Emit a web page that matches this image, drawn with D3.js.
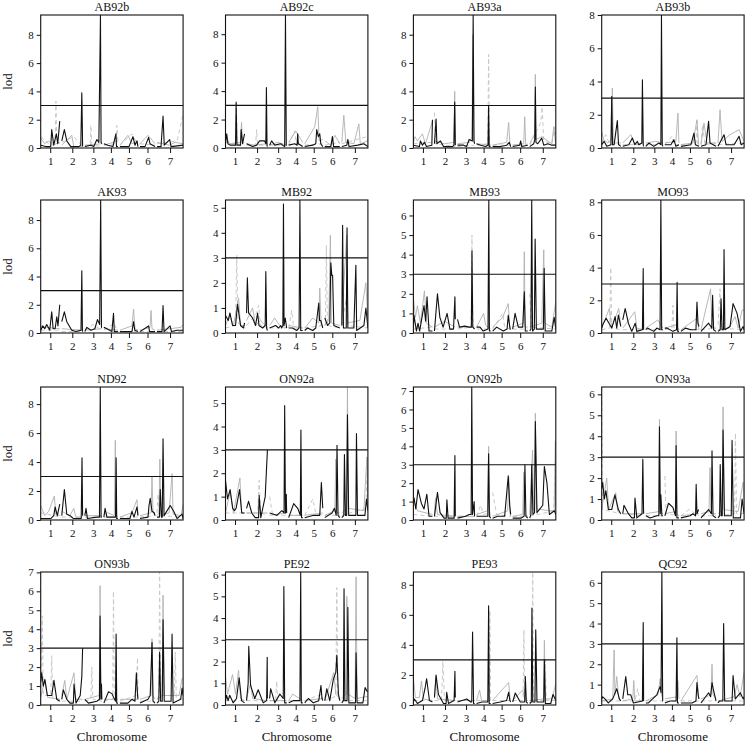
<!DOCTYPE html>
<html>
<head>
<meta charset="utf-8">
<script src="https://cdn.jsdelivr.net/npm/d3@7/dist/d3.min.js"></script>
<style>
  body { margin: 0; background: #fff; }
  svg { display: block; }
  svg text { font-family: "Liberation Serif", "Times New Roman", "DejaVu Serif", serif; }
</style>
</head>
<body>
<svg width="748" height="748"></svg>
<script>
// chromosomes (cM) and panel info
const chrNames = ["1", "2", "3", "4", "5", "6", "7"];
const chrLengths = [95, 105, 85, 70, 90, 75, 130];
const chrGap = 10;
const threshold = 3;
const panelNames = ["AB92b", "AB92c", "AB93a", "AB93b", "AK93", "MB92", "MB93", "MO93",
                    "ND92", "ON92a", "ON92b", "ON93a", "ON93b", "PE92", "PE93", "QC92"];
const yTickStep = [2, 2, 2, 2, 2, 1, 1, 2, 2, 1, 1, 1, 1, 1, 2, 1];

// lod curves, [chr, pos, lod]
const ab92bBlack = [[1,0,.2],[1,25,.1],[1,50,.1],[1,55,1.3],[1,65,.2],[1,78,1.0],[1,85,.3],[1,95,1.9],
  [2,0,.5],[2,13,1.3],[2,25,.5],[2,45,.1],[2,85,.1],[2,95,.2],[2,100,3.9],[2,104,.1],
  [3,0,.1],[3,30,.2],[3,45,.1],[3,60,.6],[3,70,.4],[3,78,9.4],[3,81,.4],[3,85,.3],
  [4,0,.3],[4,20,.2],[4,45,.1],[4,60,1.0],[4,63,.1],[4,70,.1],
  [5,0,.1],[5,45,.1],[5,65,.8],[5,75,.2],[5,85,.5],[5,90,.1],
  [6,0,.1],[6,25,.1],[6,43,.75],[6,50,.3],[6,75,.1],
  [7,0,.1],[7,20,.1],[7,30,2.25],[7,36,.2],[7,63,.6],[7,70,.1],[7,130,.2]];
const ab92bGray = [[1,0,.7],[1,20,.3],[1,40,.5],[1,60,.2],[1,95,.4],[2,0,.2],[2,50,.9],[2,60,.1],[2,104,.1],
  [3,0,.2],[3,85,.3],[4,0,.2],[4,70,.5],[5,0,.2],[5,40,.9],[5,60,.3],[5,90,.5],[6,0,.3],[6,40,.9],[6,75,.3],
  [7,0,.4],[7,60,.2],[7,90,.4],[7,130,.3]];
const ab92bDash = [[1,0,.8],[1,40,.3],[1,72,.4],[1,76,3.3],[1,80,.5],[1,95,.3],[2,0,.4],[2,60,.8],[2,104,.1],
  [3,0,.1],[3,27,.2],[3,30,1.6],[3,35,.2],[3,85,.1],[4,0,.2],[4,60,.3],[4,65,1.6],[4,70,.4],
  [5,0,.2],[5,60,1.0],[5,90,.2],[6,0,.3],[6,75,.2],[7,0,.3],[7,100,.5],[7,130,2.4]];

const ab92cBlack = [[1,0,.3],[1,6,1.0],[1,12,.3],[1,23,.2],[1,50,.2],[1,53,3.2],[1,57,.2],[1,75,.2],[1,78,1.3],[1,85,.3],[1,95,1.0],
  [2,0,.3],[2,30,.1],[2,50,.2],[2,65,.5],[2,90,.5],[2,96,.3],[2,99,4.25],[2,102,.2],[2,104,.1],
  [3,0,.2],[3,10,.5],[3,25,.2],[3,55,.3],[3,75,.1],[3,79,9.35],[3,83,.2],[3,85,.2],
  [4,0,.2],[4,30,.3],[4,42,.2],[4,45,1.0],[4,48,.3],[4,70,.1],
  [5,0,.1],[5,40,.2],[5,55,.3],[5,60,1.3],[5,68,.8],[5,75,1.0],[5,80,.3],[5,90,.1],
  [6,0,.1],[6,30,.1],[6,38,.8],[6,44,.1],[6,75,.1],
  [7,0,.1],[7,25,.2],[7,30,.6],[7,36,.1],[7,80,.2],[7,110,.3],[7,130,.1]];
const ab92cGray = [[1,0,.9],[1,20,.3],[1,75,.4],[1,80,1.8],[1,85,.3],[1,95,.4],[2,0,.3],[2,40,.2],[2,104,.3],
  [3,0,.2],[3,40,.4],[3,85,.2],[4,0,.4],[4,35,1.2],[4,70,.4],[5,0,.3],[5,50,1.5],[5,65,2.9],[5,72,.5],[5,90,.6],
  [6,0,.5],[6,30,.2],[6,50,.9],[6,75,.3],[7,0,.4],[7,10,2.3],[7,20,.4],[7,60,.3],[7,85,1.7],[7,92,.3],[7,130,.5]];
const ab92cDash = [[1,0,.4],[1,50,.3],[1,54,3.4],[1,58,.3],[1,95,.2],[2,0,.2],[2,45,.2],[2,50,1.3],[2,55,.2],[2,104,.2],
  [3,0,.2],[3,85,.2],[4,0,.2],[4,30,1.2],[4,38,.3],[4,70,.2],[5,0,.2],[5,90,.3],[6,0,.2],[6,75,.4],
  [7,0,.3],[7,125,.8],[7,130,.5]];

const ab93aBlack = [[1,0,.2],[1,30,.1],[1,35,.5],[1,45,.2],[1,55,.4],[1,65,.1],[1,92,.2],[1,95,2.0],
  [2,0,.3],[2,8,2.05],[2,12,.3],[2,30,.5],[2,45,.1],[2,90,.1],[2,97,.2],[2,101,3.25],[2,104,.2],
  [3,0,.2],[3,30,.2],[3,45,.1],[3,58,.6],[3,74,.5],[3,78,9.39],[3,82,.5],[3,85,.3],
  [4,0,.3],[4,20,.2],[4,45,.1],[4,57,.2],[4,60,3.0],[4,63,.1],[4,70,.1],
  [5,0,.1],[5,40,.1],[5,70,.2],[5,83,.4],[5,90,.1],
  [6,0,.1],[6,35,.2],[6,40,.5],[6,45,.1],[6,75,.2],
  [7,0,.1],[7,20,.3],[7,25,.6],[7,28,4.3],[7,31,.4],[7,40,.3],[7,60,.7],[7,70,.2],[7,90,.3],[7,110,.2],[7,130,.2]];
const ab93aGray = [[1,0,.4],[1,8,.8],[1,20,.5],[1,45,1.0],[1,60,.3],[1,95,1.9],[2,0,.5],[2,50,.3],[2,97,.4],[2,101,4.0],[2,104,.2],
  [3,0,.3],[3,60,.4],[3,72,.8],[3,77,8.0],[3,82,.4],[3,85,.3],[4,0,.3],[4,70,.2],
  [5,0,.2],[5,70,.4],[5,80,1.8],[5,86,.3],[5,90,.2],[6,0,.2],[6,55,.3],[6,60,2.2],[6,65,.2],[6,75,.3],
  [7,0,.3],[7,25,1.0],[7,28,5.2],[7,32,.6],[7,60,.8],[7,110,.3],[7,120,1.5],[7,130,.2]];
const ab93aDash = [[1,0,.3],[1,95,.4],[2,0,2.5],[2,6,.3],[2,104,.1],[3,0,.1],[3,85,.2],
  [4,0,.2],[4,56,.3],[4,60,6.6],[4,64,.3],[4,70,.2],[5,0,.2],[5,90,.2],[6,0,.2],[6,75,.2],
  [7,0,.2],[7,55,1.8],[7,62,2.9],[7,70,.5],[7,110,.3],[7,125,1.5],[7,130,.4]];

const ab93bBlack = [[1,0,.2],[1,12,.4],[1,25,.1],[1,46,.2],[1,50,3.1],[1,54,.2],[1,62,.2],[1,78,1.65],[1,84,.2],[1,95,.1],
  [2,0,.1],[2,30,.2],[2,48,.6],[2,60,.2],[2,73,.4],[2,80,.2],[2,95,.3],[2,98,4.1],[2,102,.2],[2,104,.1],
  [3,0,.1],[3,15,.3],[3,40,.1],[3,65,.3],[3,75,.2],[3,78,8.0],[3,82,.2],[3,85,.1],
  [4,0,.2],[4,30,.2],[4,45,.5],[4,55,.1],[4,70,.2],
  [5,0,.1],[5,50,.2],[5,65,.9],[5,72,.2],[5,90,.1],
  [6,0,.1],[6,25,.2],[6,38,1.6],[6,45,.3],[6,75,.1],
  [7,0,.1],[7,30,.8],[7,40,.2],[7,80,.2],[7,105,.7],[7,115,.2],[7,130,.3]];
const ab93bGray = [[1,0,1.0],[1,10,.5],[1,30,.3],[1,48,.5],[1,53,3.6],[1,58,.3],[1,95,.3],[2,0,.3],[2,40,.8],[2,60,.2],[2,104,.3],
  [3,0,.3],[3,50,.4],[3,85,.3],[4,0,.3],[4,55,.4],[4,65,2.1],[4,70,.3],[5,0,.2],[5,60,.3],[5,80,1.7],[5,88,.2],
  [6,0,.2],[6,15,1.5],[6,30,.3],[6,75,.3],[7,0,.3],[7,10,2.3],[7,20,.4],[7,60,.8],[7,105,1.1],[7,130,.4]];
const ab93bDash = [[1,0,.3],[1,20,.8],[1,40,.2],[1,95,.2],[2,0,.2],[2,104,.2],[3,0,.2],[3,85,.2],
  [4,0,.2],[4,35,.7],[4,45,.2],[4,70,.2],[5,0,.2],[5,75,.3],[5,80,1.6],[5,85,.2],[5,90,.2],
  [6,0,.2],[6,8,1.4],[6,20,.2],[6,75,.3],[7,0,.2],[7,130,.3]];

const ak93Black = [[1,0,.2],[1,10,.5],[1,20,.3],[1,30,.6],[1,45,.2],[1,55,1.5],[1,62,.3],[1,72,.3],[1,80,1.15],[1,86,.5],[1,95,2.0],
  [2,0,.8],[2,13,1.5],[2,25,.8],[2,50,.2],[2,70,.1],[2,96,.2],[2,100,4.4],[2,103,.2],[2,104,.1],
  [3,0,.1],[3,10,.4],[3,30,.2],[3,50,.3],[3,63,.95],[3,74,.6],[3,79,9.42],[3,83,.4],[3,85,.4],
  [4,0,.4],[4,15,.3],[4,40,.1],[4,48,1.4],[4,52,.1],[4,70,.1],
  [5,0,.1],[5,60,.1],[5,68,.8],[5,74,.2],[5,90,.1],
  [6,0,.1],[6,43,.5],[6,48,.1],[6,75,.1],
  [7,0,.1],[7,25,.1],[7,30,1.95],[7,35,.1],[7,65,.5],[7,72,.1],[7,100,.2],[7,130,.2]];
const ak93Gray = [[1,0,.5],[1,30,.4],[1,95,.3],[2,0,.3],[2,104,.2],[3,0,.2],[3,85,.3],[4,0,.3],[4,70,.2],
  [5,0,.2],[5,60,.5],[5,68,1.7],[5,75,.3],[5,90,.2],[6,0,.2],[6,50,.4],[6,55,1.6],[6,60,.3],[6,75,.2],
  [7,0,.2],[7,120,.4],[7,130,.6]];
const ak93Dash = [[1,0,.2],[1,95,.2],[2,0,.1],[2,104,.1],[3,0,.2],[3,40,.6],[3,85,.2],[4,0,.2],[4,50,.7],[4,70,.1],
  [5,0,.1],[5,90,.1],[6,0,.1],[6,75,.1],[7,0,.1],[7,130,.1]];

const mb92Black = [[1,0,.7],[1,14,.5],[1,22,.8],[1,35,.3],[1,50,.3],[1,60,1.15],[1,75,.3],[1,90,.2],[1,95,.4],
  [2,0,.8],[2,4,2.2],[2,10,.8],[2,30,.6],[2,45,.3],[2,55,.8],[2,62,.3],[2,80,.2],[2,93,.3],[2,96,2.45],[2,100,.2],[2,104,.1],
  [3,0,.2],[3,30,.3],[3,45,.2],[3,55,.3],[3,60,.2],[3,66,.3],[3,69,5.15],[3,72,.3],[3,78,.6],[3,85,.2],
  [4,0,.2],[4,19,.2],[4,40,.1],[4,52,.2],[4,56,5.31],[4,60,.1],[4,70,.1],
  [5,0,.1],[5,14,.2],[5,40,.1],[5,55,.2],[5,70,1.2],[5,74,.5],[5,80,.5],[5,90,.2],
  [6,0,.6],[6,14,.3],[6,25,.4],[6,30,2.8],[6,35,2.3],[6,39,2.3],[6,45,.3],[6,75,.2],
  [7,0,.3],[7,4,4.3],[7,8,.2],[7,22,.2],[7,26,4.2],[7,30,.2],[7,60,.2],[7,70,2.7],[7,74,.1],[7,110,.3],[7,120,1.0],[7,130,.2]];
const mb92Gray = [[1,0,.3],[1,20,.7],[1,40,.3],[1,65,1.4],[1,75,.3],[1,95,.3],[2,0,.5],[2,30,1.0],[2,45,.3],[2,70,.5],[2,104,.2],
  [3,0,.3],[3,25,.6],[3,50,.3],[3,85,.2],[4,0,.3],[4,70,.2],[5,0,.2],[5,40,.6],[5,70,.4],[5,75,1.8],[5,82,.3],[5,90,.3],
  [6,0,.3],[6,20,.5],[6,28,3.9],[6,33,.4],[6,75,.3],[7,0,.5],[7,24,3.9],[7,30,.4],[7,90,.5],[7,120,2.0],[7,130,.5]];
const mb92Dash = [[1,0,.2],[1,50,.3],[1,56,3.1],[1,62,.4],[1,95,.2],[2,0,.3],[2,50,.8],[2,60,1.1],[2,70,.3],[2,104,.2],
  [3,0,.2],[3,85,.2],[4,0,.2],[4,15,.9],[4,25,.2],[4,70,.2],[5,0,.2],[5,90,.3],
  [6,0,.3],[6,3,.3],[6,8,3.5],[6,13,.3],[6,75,.2],[7,0,.3],[7,25,1.5],[7,32,.3],[7,130,.2]];

const mb93Black = [[1,0,.3],[1,3,.9],[1,15,.1],[1,23,.5],[1,31,.1],[1,53,1.4],[1,61,.6],[1,68,1.85],[1,78,.1],[1,95,.1],
  [2,0,.1],[2,15,2.0],[2,27,.8],[2,43,.3],[2,63,1.0],[2,77,.2],[2,95,.2],[2,102,1.85],[2,104,.7],
  [3,0,.7],[3,10,.3],[3,36,.35],[3,58,.3],[3,69,.3],[3,72,4.2],[3,76,.3],[3,85,.2],
  [4,0,.3],[4,17,.3],[4,33,.1],[4,57,.2],[4,61,6.79],[4,64,.1],[4,70,.1],
  [5,0,.1],[5,20,.3],[5,53,.1],[5,72,.2],[5,78,.9],[5,87,.2],[5,90,.2],
  [6,0,.2],[6,12,1.0],[6,28,.3],[6,50,.3],[6,58,2.1],[6,63,.1],[6,75,.1],
  [7,0,.1],[7,6,.2],[7,10,6.79],[7,14,.1],[7,23,.2],[7,27,4.8],[7,33,.2],[7,68,.2],[7,72,3.3],[7,77,.1],[7,110,.1],[7,122,.8],[7,130,.2]];
const mb93Gray = [[1,0,1.8],[1,10,.8],[1,20,1.4],[1,35,.5],[1,55,2.15],[1,65,.5],[1,95,.3],[2,0,.3],[2,50,.6],[2,104,.3],
  [3,0,.3],[3,85,.3],[4,0,.3],[4,35,1.0],[4,45,.4],[4,70,.2],[5,0,.3],[5,50,.8],[5,78,1.5],[5,85,.3],[5,90,.3],
  [6,0,.3],[6,54,.5],[6,58,4.15],[6,62,.3],[6,75,.3],[7,0,.3],[7,60,.5],[7,70,4.25],[7,75,.5],[7,110,.3],[7,130,1.6]];
const mb93Dash = [[1,0,.2],[1,95,.3],[2,0,.2],[2,104,.2],[3,0,.2],[3,68,.3],[3,72,5.0],[3,77,.3],[3,85,.2],
  [4,0,.2],[4,70,.2],[5,0,.2],[5,50,1.0],[5,60,.3],[5,90,.2],[6,0,.2],[6,75,.2],[7,0,2.0],[7,8,.3],[7,130,.2]];

const mo93Black = [[1,0,.3],[1,5,.5],[1,22,.9],[1,50,.3],[1,67,1.0],[1,75,.3],[1,83,1.1],[1,95,.4],
  [2,0,.8],[2,12,1.5],[2,28,.6],[2,45,.1],[2,62,.6],[2,70,.1],[2,98,.2],[2,102,3.95],[2,104,.2],
  [3,0,.2],[3,8,.3],[3,40,.1],[3,55,.3],[3,71,.2],[3,75,8.14],[3,79,.2],[3,85,.2],
  [4,0,.3],[4,10,.3],[4,40,.1],[4,58,.2],[4,61,3.1],[4,64,.1],[4,70,.1],
  [5,0,.1],[5,22,.3],[5,50,.2],[5,75,.2],[5,80,1.9],[5,85,.6],[5,90,.4],
  [6,0,.1],[6,38,.6],[6,54,.3],[6,58,2.3],[6,63,.2],[6,75,.1],
  [7,0,.1],[7,11,.2],[7,15,2.1],[7,20,.2],[7,27,.2],[7,30,5.1],[7,34,.2],[7,60,.4],[7,75,1.8],[7,95,1.2],[7,112,.1],[7,125,.4],[7,130,.2]];
const mo93Gray = [[1,0,.3],[1,38,1.5],[1,50,.3],[1,85,1.5],[1,95,.4],[2,0,.3],[2,60,1.3],[2,70,.3],[2,104,.2],
  [3,0,.3],[3,60,.8],[3,85,.3],[4,0,.3],[4,55,.5],[4,70,.2],[5,0,.2],[5,80,.9],[5,90,.2],
  [6,0,.2],[6,48,2.7],[6,55,.3],[6,75,.3],[7,0,.2],[7,55,.3],[7,85,1.0],[7,100,.3],[7,120,1.4],[7,130,1.4]];
const mo93Dash = [[1,0,.2],[1,40,.3],[1,45,4.0],[1,50,.3],[1,95,.2],[2,0,.2],[2,104,.2],[3,0,.2],[3,85,.2],
  [4,0,.2],[4,35,.3],[4,40,1.7],[4,45,.3],[4,70,.2],[5,0,.2],[5,90,.2],[6,0,.2],[6,75,.3],
  [7,0,.5],[7,10,2.7],[7,16,.3],[7,130,.2]];

const nd92Black = [[1,0,.1],[1,50,.1],[1,65,.3],[1,72,.9],[1,83,.3],[1,95,1.1],
  [2,0,.3],[2,13,2.1],[2,25,.4],[2,42,.3],[2,58,.1],[2,97,.1],[2,101,4.3],[2,104,.3],
  [3,0,.3],[3,6,.8],[3,13,.1],[3,60,.2],[3,73,.2],[3,77,9.18],[3,81,.2],[3,85,.2],
  [4,0,.2],[4,6,.8],[4,15,.2],[4,58,.2],[4,61,4.3],[4,64,.1],[4,70,.1],
  [5,0,.1],[5,50,.1],[5,60,.6],[5,70,.2],[5,85,.9],[5,90,.3],
  [6,0,.1],[6,40,.2],[6,45,1.0],[6,51,1.5],[6,60,.6],[6,71,.5],[6,75,.3],
  [7,0,.2],[7,12,.2],[7,16,2.1],[7,22,.2],[7,26,.2],[7,30,5.6],[7,35,.3],[7,66,1.0],[7,83,.6],[7,100,.1],[7,125,.4],[7,130,.1]];
const nd92Gray = [[1,0,1.0],[1,20,.3],[1,40,.6],[1,68,1.65],[1,75,.4],[1,95,.3],[2,0,.6],[2,40,.3],[2,60,.8],[2,70,.2],[2,104,.2],
  [3,0,.3],[3,85,.3],[4,0,.4],[4,20,.5],[4,52,.3],[4,57,5.5],[4,62,.3],[4,70,.2],[5,0,.2],[5,60,.5],[5,85,1.4],[5,90,.4],
  [6,0,.3],[6,55,.5],[6,60,3.0],[6,65,.5],[6,75,.3],[7,0,.3],[7,10,.5],[7,14,4.2],[7,20,.3],[7,60,.5],[7,75,3.2],[7,80,.4],[7,120,.3],[7,130,1.1]];
const nd92Dash = [[1,0,.5],[1,95,.2],[2,0,.2],[2,104,.2],[3,0,.2],[3,85,.2],[4,0,.2],[4,70,.2],[5,0,.2],[5,90,.2],
  [6,0,.2],[6,75,.3],[7,0,.5],[7,5,1.8],[7,12,.3],[7,130,.2]];

const on92aBlack = [[1,0,1.7],[1,10,.9],[1,23,1.3],[1,36,.5],[1,45,.4],[1,53,.5],[1,70,1.3],[1,81,.3],[1,95,.3],
  [2,0,.5],[2,10,.8],[2,26,.3],[2,43,.1],[2,60,.1],[2,63,1.05],[2,71,.1],[2,93,1.0],[2,104,3.0],
  [3,0,.3],[3,36,.2],[3,61,.4],[3,72,.3],[3,75,4.9],[3,79,.3],[3,83,1.1],[3,85,.3],
  [4,0,.1],[4,25,.7],[4,45,.5],[4,58,.2],[4,61,3.85],[4,64,.1],[4,70,.1],
  [5,0,.1],[5,45,.2],[5,75,.2],[5,83,1.6],[5,90,.5],
  [6,0,.1],[6,36,.3],[6,48,.5],[6,57,.2],[6,61,3.2],[6,66,.2],[6,75,.1],
  [7,0,.1],[7,10,.2],[7,13,2.8],[7,18,.2],[7,24,.2],[7,28,4.5],[7,34,.2],[7,70,.2],[7,73,3.7],[7,78,.2],[7,115,.2],[7,123,.9],[7,130,.4]];
const on92aGray = [[1,0,.3],[1,23,1.2],[1,40,.3],[1,72,1.8],[1,80,.3],[1,95,.3],[2,0,.3],[2,104,.3],[3,0,.2],[3,85,.3],
  [4,0,.2],[4,70,.2],[5,0,.2],[5,90,.3],[6,0,.2],[6,50,.4],[6,55,2.6],[6,60,.3],[6,75,.3],
  [7,0,.3],[7,24,.5],[7,28,5.69],[7,33,.5],[7,110,.4],[7,125,2.7],[7,130,.6]];
const on92aDash = [[1,0,.3],[1,95,.3],[2,0,.3],[2,55,.3],[2,63,1.7],[2,70,.3],[2,104,.2],[3,0,1.0],[3,15,.2],[3,85,.2],
  [4,0,.2],[4,70,.2],[5,0,.2],[5,40,.9],[5,55,.3],[5,90,.2],[6,0,.2],[6,75,.2],[7,0,.2],[7,120,.5],[7,128,2.7],[7,130,.3]];

const on92bBlack = [[1,0,1.0],[1,3,1.2],[1,12,.6],[1,23,1.65],[1,40,.9],[1,53,.6],[1,67,1.4],[1,78,.2],[1,95,.2],
  [2,0,.2],[2,15,1.5],[2,28,.4],[2,48,.1],[2,59,.1],[2,62,1.1],[2,68,.1],[2,98,.1],[2,102,3.5],[2,104,.2],
  [3,0,.1],[3,40,.2],[3,58,.3],[3,68,.3],[3,71,7.22],[3,75,.3],[3,83,1.0],[3,85,.2],
  [4,0,.2],[4,21,.2],[4,56,.2],[4,60,3.6],[4,64,.2],[4,70,.1],
  [5,0,.1],[5,25,.2],[5,60,.2],[5,78,2.4],[5,85,.8],[5,90,.3],
  [6,0,.1],[6,41,.1],[6,57,.2],[6,61,3.0],[6,66,.2],[6,75,.1],
  [7,0,.1],[7,6,.3],[7,10,3.0],[7,16,.3],[7,24,.4],[7,28,5.35],[7,36,.4],[7,65,.8],[7,73,2.9],[7,86,2.0],[7,98,.3],[7,123,.5],[7,130,.3]];
const on92bGray = [[1,0,1.1],[1,20,.5],[1,95,.3],[2,0,.3],[2,5,1.2],[2,15,.3],[2,104,.2],[3,0,.2],[3,85,.2],
  [4,0,.3],[4,55,.5],[4,60,4.0],[4,65,.4],[4,70,.2],[5,0,.2],[5,75,.5],[5,80,2.3],[5,87,.4],[5,90,.2],
  [6,0,.2],[6,50,.3],[6,55,2.6],[6,60,.3],[6,75,.2],
  [7,0,.3],[7,14,3.8],[7,20,.5],[7,24,.8],[7,28,5.8],[7,35,.6],[7,100,.5],[7,122,.5],[7,128,4.3],[7,130,.8]];
const on92bDash = [[1,0,.3],[1,95,.2],[2,0,.2],[2,104,.2],[3,0,.2],[3,85,.2],[4,0,.2],[4,20,.8],[4,35,.3],[4,70,.4],
  [5,0,1.5],[5,20,.3],[5,90,.2],[6,0,.2],[6,75,.2],[7,0,.2],[7,120,.5],[7,130,4.3]];

const on93aBlack = [[1,0,1.5],[1,5,1.8],[1,13,1.0],[1,21,1.4],[1,33,.5],[1,50,.5],[1,66,1.2],[1,83,.5],[1,95,.3],
  [2,0,.3],[2,6,.7],[2,28,.3],[2,45,.1],[2,58,.1],[2,61,1.05],[2,70,.1],[2,96,.3],[2,100,2.9],[2,104,.3],
  [3,0,.2],[3,21,.1],[3,55,.2],[3,65,.2],[3,68,4.45],[3,72,.3],[3,75,1.2],[3,80,.2],[3,85,.2],
  [4,0,.2],[4,18,.8],[4,40,.6],[4,53,.2],[4,56,3.55],[4,60,.1],[4,70,.1],
  [5,0,.1],[5,46,.2],[5,60,.3],[5,73,.2],[5,76,1.7],[5,80,.3],[5,88,.5],
  [6,0,.1],[6,38,.5],[6,52,.3],[6,55,3.3],[6,60,.2],[6,75,.1],
  [7,0,.1],[7,8,.2],[7,11,2.65],[7,16,.2],[7,21,.2],[7,25,4.3],[7,32,.2],[7,66,.2],[7,70,3.8],[7,76,.1],[7,112,.1],[7,120,1.0],[7,130,.3]];
const on93aGray = [[1,0,.5],[1,25,2.0],[1,35,.5],[1,70,1.3],[1,80,.4],[1,95,.3],[2,0,.3],[2,104,.3],
  [3,0,.3],[3,64,.4],[3,68,4.8],[3,72,.4],[3,85,.3],[4,0,.3],[4,52,.4],[4,56,4.25],[4,60,.3],[4,70,.2],
  [5,0,.2],[5,90,.3],[6,0,.3],[6,40,.4],[6,45,2.5],[6,50,.3],[6,75,.3],
  [7,0,.3],[7,21,.5],[7,25,5.4],[7,30,.5],[7,100,.4],[7,125,1.8],[7,130,.8]];
const on93aDash = [[1,0,6.35],[1,4,.5],[1,95,.3],[2,0,.3],[2,104,.2],[3,0,.2],[3,85,.2],[4,0,2.1],[4,6,.3],[4,70,.2],
  [5,0,.2],[5,40,.5],[5,90,.2],[6,0,.2],[6,75,.2],[7,0,.2],[7,82,.3],[7,87,4.15],[7,92,.3],[7,130,.3]];

const on93bBlack = [[1,0,1.2],[1,5,1.7],[1,13,1.0],[1,21,1.35],[1,33,.5],[1,55,.5],[1,66,1.3],[1,80,.3],[1,95,.2],
  [2,0,.3],[2,8,.8],[2,25,.3],[2,41,.1],[2,58,.1],[2,61,1.1],[2,71,.1],[2,92,.5],[2,100,1.5],[2,104,3.0],
  [3,0,.3],[3,18,.1],[3,60,.2],[3,73,.3],[3,76,4.7],[3,80,.3],[3,83,1.1],[3,85,.3],
  [4,0,.1],[4,23,.7],[4,40,.6],[4,58,.2],[4,61,3.75],[4,64,.1],[4,70,.1],
  [5,0,.1],[5,40,.1],[5,60,.3],[5,75,.2],[5,82,1.7],[5,88,.5],[5,90,.3],
  [6,0,.1],[6,40,.3],[6,51,.5],[6,60,3.3],[6,65,.2],[6,75,.1],
  [7,0,.1],[7,9,.2],[7,13,2.8],[7,18,.2],[7,26,.2],[7,30,4.5],[7,36,.2],[7,70,.2],[7,75,3.75],[7,80,.1],[7,118,.3],[7,125,.9],[7,130,.5]];
const on93bGray = [[1,0,.4],[1,20,1.3],[1,35,.4],[1,95,.3],[2,0,.5],[2,15,1.3],[2,25,.3],[2,61,1.7],[2,70,.3],[2,104,.3],
  [3,0,.3],[3,72,.5],[3,76,6.3],[3,80,.5],[3,85,.3],[4,0,.3],[4,70,.3],[5,0,.3],[5,90,.3],
  [6,0,.3],[6,55,.5],[6,60,3.5],[6,65,.5],[6,75,.3],[7,0,.3],[7,26,.5],[7,30,5.8],[7,35,.5],[7,110,.5],[7,125,1.4],[7,130,1.4]];
const on93bDash = [[1,0,.5],[1,8,4.7],[1,13,.5],[1,50,.5],[1,55,2.6],[1,60,.4],[1,95,.3],[2,0,.2],[2,104,.2],
  [3,0,.2],[3,30,.3],[3,35,2.0],[3,40,.3],[3,85,.2],[4,0,.2],[4,44,.3],[4,48,6.0],[4,52,.3],[4,70,.2],
  [5,0,.2],[5,80,.5],[5,88,2.5],[5,90,.4],[6,0,.2],[6,75,.2],
  [7,0,.3],[7,9,.5],[7,13,7.02],[7,18,.5],[7,86,.5],[7,91,2.8],[7,96,.4],[7,130,.3]];

const pe92Black = [[1,0,.2],[1,5,.45],[1,13,.2],[1,21,.45],[1,38,.1],[1,55,.3],[1,68,1.25],[1,80,.2],[1,95,.1],
  [2,0,.2],[2,8,1.0],[2,11,2.7],[2,20,.9],[2,41,.3],[2,58,.7],[2,83,.1],[2,100,.2],[2,103,2.2],[2,104,.3],
  [3,0,.3],[3,5,.75],[3,26,.1],[3,51,.5],[3,68,.3],[3,71,5.45],[3,75,.1],[3,85,.1],
  [4,0,.1],[4,23,.2],[4,56,.2],[4,60,6.12],[4,63,.1],[4,70,.1],
  [5,0,.1],[5,18,.3],[5,43,.1],[5,70,.2],[5,81,.9],[5,86,.3],[5,90,.2],
  [6,0,.2],[6,10,.75],[6,25,.2],[6,43,1.2],[6,55,1.5],[6,60,2.3],[6,68,.5],[6,75,.2],
  [7,0,.1],[7,8,.2],[7,11,5.35],[7,15,.2],[7,26,.2],[7,30,4.5],[7,35,.1],[7,68,.1],[7,71,2.4],[7,76,.1],[7,105,.1],[7,116,.8],[7,128,.6]];
const pe92Gray = [[1,0,1.3],[1,10,.5],[1,35,1.4],[1,50,.5],[1,65,1.6],[1,75,.3],[1,95,.2],[2,0,.3],[2,20,1.0],[2,30,.3],[2,104,.2],
  [3,0,.2],[3,85,.2],[4,0,.2],[4,20,.5],[4,70,.2],[5,0,.2],[5,90,.3],[6,0,.2],[6,45,1.5],[6,55,.5],[6,75,.3],
  [7,0,.3],[7,20,.5],[7,25,5.0],[7,30,.5],[7,66,.3],[7,71,5.9],[7,76,.3],[7,130,.4]];
const pe92Dash = [[1,0,.2],[1,95,.2],[2,0,.2],[2,104,.2],[3,0,.2],[3,30,.2],[3,35,1.1],[3,40,.2],[3,85,.2],[4,0,.2],[4,70,.2],
  [5,0,.2],[5,85,.5],[5,90,.3],[6,0,.2],[6,55,.4],[6,60,5.4],[6,65,.4],[6,75,.2],[7,0,.2],[7,130,.2]];

const pe93Black = [[1,0,.2],[1,5,.4],[1,20,.1],[1,45,.3],[1,58,1.1],[1,66,1.75],[1,80,.3],[1,95,.2],
  [2,0,.5],[2,8,2.0],[2,20,.7],[2,45,.1],[2,58,.1],[2,61,.85],[2,70,.1],[2,98,.3],[2,102,2.25],[2,104,.5],
  [3,0,.2],[3,46,.4],[3,66,.2],[3,71,.2],[3,75,4.85],[3,80,.1],[3,85,.1],
  [4,0,.1],[4,26,.2],[4,56,.2],[4,60,6.6],[4,63,.1],[4,70,.1],
  [5,0,.1],[5,38,.2],[5,70,.3],[5,80,.85],[5,86,.3],[5,90,.2],
  [6,0,.2],[6,13,.8],[6,38,.2],[6,60,.2],[6,63,1.9],[6,68,.2],[6,75,.1],
  [7,0,.1],[7,8,.2],[7,11,6.45],[7,15,.2],[7,26,.2],[7,30,5.0],[7,36,.2],[7,70,.2],[7,73,3.0],[7,78,.1],[7,105,.1],[7,116,.7],[7,130,.3]];
const pe93Gray = [[1,0,1.8],[1,10,.5],[1,30,.5],[1,40,1.6],[1,50,.4],[1,95,.3],[2,0,.5],[2,8,1.9],[2,15,.4],[2,104,.3],
  [3,0,.3],[3,85,.3],[4,0,.3],[4,15,1.0],[4,25,.3],[4,70,.3],[5,0,.3],[5,80,1.5],[5,88,.3],
  [6,0,.3],[6,50,1.0],[6,60,.4],[6,75,.3],[7,0,.3],[7,69,.4],[7,73,4.3],[7,78,.4],[7,110,.4],[7,130,1.4]];
const pe93Dash = [[1,0,.3],[1,95,.3],[2,0,.3],[2,35,.3],[2,42,2.9],[2,50,.3],[2,104,.3],[3,0,.3],[3,85,.3],
  [4,0,.3],[4,62,.3],[4,66,6.3],[4,70,.3],[5,0,.3],[5,90,.3],[6,0,.3],[6,52,.3],[6,56,5.0],[6,60,.3],[6,75,.3],
  [7,0,.3],[7,11,.3],[7,15,8.85],[7,19,.3],[7,74,.3],[7,78,3.0],[7,82,.3],[7,130,.3]];

const qc92Black = [[1,0,.3],[1,5,.4],[1,16,.3],[1,33,.1],[1,55,.3],[1,75,.8],[1,88,.3],[1,95,.2],
  [2,0,.3],[2,15,1.4],[2,25,.5],[2,40,.5],[2,53,.1],[2,98,.2],[2,102,4.05],[2,104,.2],
  [3,0,.1],[3,13,.1],[3,55,.5],[3,71,.9],[3,76,.6],[3,80,6.53],[3,84,.2],[3,85,.2],
  [4,0,.1],[4,26,.2],[4,56,.2],[4,60,3.3],[4,63,.1],[4,70,.1],
  [5,0,.1],[5,55,.1],[5,75,.2],[5,80,1.1],[5,86,.5],[5,90,.3],
  [6,0,.1],[6,38,.6],[6,48,.4],[6,55,1.1],[6,63,.7],[6,75,.2],
  [7,0,.1],[7,8,.2],[7,24,.2],[7,28,4.0],[7,33,.2],[7,70,.2],[7,75,1.45],[7,86,.3],[7,111,.6],[7,125,.3],[7,130,.4]];
const qc92Gray = [[1,0,.2],[1,55,.3],[1,62,2.7],[1,66,.5],[1,75,1.4],[1,85,.3],[1,95,.2],[2,0,.2],[2,50,.3],[2,55,1.2],[2,60,.2],[2,104,.2],
  [3,0,.2],[3,60,.5],[3,72,1.3],[3,78,.5],[3,85,.3],[4,0,.3],[4,60,.4],[4,65,1.2],[4,70,.3],[5,0,.2],[5,80,1.45],[5,88,.3],
  [6,0,.3],[6,50,.5],[6,55,2.0],[6,60,.5],[6,75,.3],[7,0,.2],[7,80,.4],[7,95,1.0],[7,110,.4],[7,130,1.6]];
const qc92Dash = [[1,0,.2],[1,95,.2],[2,0,.2],[2,60,.2],[2,75,.8],[2,85,.2],[2,104,.2],[3,0,.2],[3,85,.2],
  [4,0,.2],[4,70,.2],[5,0,.2],[5,90,.2],[6,0,.2],[6,75,.2],[7,0,.2],[7,130,.2]];

// series per panel: dashed, gray, black (black drawn last, on top)
const panelSeries = [
  [ab92bDash, ab92bGray, ab92bBlack], [ab92cDash, ab92cGray, ab92cBlack],
  [ab93aDash, ab93aGray, ab93aBlack], [ab93bDash, ab93bGray, ab93bBlack],
  [ak93Dash, ak93Gray, ak93Black], [mb92Dash, mb92Gray, mb92Black],
  [mb93Dash, mb93Gray, mb93Black], [mo93Dash, mo93Gray, mo93Black],
  [nd92Dash, nd92Gray, nd92Black], [on92aDash, on92aGray, on92aBlack],
  [on92bDash, on92bGray, on92bBlack], [on93aDash, on93aGray, on93aBlack],
  [on93bDash, on93bGray, on93bBlack], [pe92Dash, pe92Gray, pe92Black],
  [pe93Dash, pe93Gray, pe93Black], [qc92Dash, qc92Gray, qc92Black]
];

const lineStyles = [
  {stroke: "#c8c8c8", width: 1, dash: "4,3"},
  {stroke: "#b0b0b0", width: 0.9, dash: null},
  {stroke: "#111", width: 1.1, dash: null}
];
const serif = "'Liberation Serif', 'Times New Roman', 'DejaVu Serif', serif";

// layout
const colLeft = [40.7, 225.5, 413.4, 601.7];
const rowTop = [15, 200, 387, 572];
const boxW = 142.4, boxH = 133;

// chromosome start offsets on the genome axis
let chrStart = [];
let acc = 0;
chrLengths.forEach((len, i) => { chrStart.push(acc); acc += len + chrGap; });
const genomeEnd = chrStart[6] + chrLengths[6];

const svg = d3.select("svg");

function drawPanel(idx) {
    const col = idx % 4, row = Math.floor(idx / 4);
    const series = panelSeries[idx];
    const ymax = d3.max(series, s => d3.max(s, d => d[2]));

    const g = svg.append("g")
        .attr("transform", `translate(${colLeft[col]},${rowTop[row]})`);

    const scX = d3.scaleLinear().domain([0, genomeEnd]).range([0, boxW]);
    const scY = d3.scaleLinear().domain([0, ymax]).range([boxH, 0]);

    g.append("clipPath").attr("id", "clip" + idx)
        .append("rect").attr("width", boxW).attr("height", boxH);

    const line = d3.line()
        .x(d => scX(chrStart[d[0] - 1] + d[1]))
        .y(d => scY(d[2]));

    const plot = g.append("g").attr("clip-path", `url(#clip${idx})`);
    series.forEach((s, k) => {
        const byChr = d3.groups(s, d => d[0]);
        const st = lineStyles[k];
        plot.selectAll(null)
            .data(byChr)
            .enter()
            .append("path")
            .attr("d", d => line(d[1]))
            .attr("fill", "none")
            .attr("stroke", st.stroke)
            .attr("stroke-width", st.width)
            .attr("stroke-dasharray", st.dash)
            .attr("stroke-linejoin", "round");
    });

    // threshold
    g.append("line")
        .attr("x1", 0).attr("x2", boxW)
        .attr("y1", scY(threshold)).attr("y2", scY(threshold))
        .attr("stroke", "#111").attr("stroke-width", 1.1);

    // box
    g.append("rect")
        .attr("width", boxW).attr("height", boxH)
        .attr("fill", "none").attr("stroke", "#111").attr("stroke-width", 1.1);

    // axes
    const mids = chrLengths.map((len, i) => chrStart[i] + len / 2);
    const axX = g.append("g")
        .attr("transform", `translate(0,${boxH})`)
        .call(d3.axisBottom(scX).tickValues(mids).tickFormat((d, i) => chrNames[i])
              .tickSize(5).tickPadding(4));
    axX.select(".domain").remove();

    const yTicks = d3.range(0, ymax + 1e-9, yTickStep[idx]);
    const axY = g.append("g")
        .call(d3.axisLeft(scY).tickValues(yTicks).tickFormat(d3.format("d"))
              .tickSize(4).tickPadding(3));
    axY.select(".domain").remove();

    [axX, axY].forEach(a => {
        a.attr("font-family", null).attr("font-size", null);
        a.selectAll("line").attr("stroke", "#111");
        a.selectAll("text")
            .attr("fill", "#111")
            .style("font-family", serif)
            .style("font-size", "11px");
    });

    // title
    g.append("text")
        .attr("x", boxW / 2).attr("y", -4)
        .attr("text-anchor", "middle")
        .style("font-family", serif)
        .style("font-size", "12px")
        .attr("fill", "#111")
        .text(panelNames[idx]);

    if (col == 0) {
        g.append("text")
            .attr("transform", `translate(${-29},${boxH / 2}) rotate(-90)`)
            .attr("text-anchor", "middle")
            .style("font-family", serif)
            .style("font-size", "13px")
            .attr("fill", "#111")
            .text("lod");
    }
    if (row == 3) {
        g.append("text")
            .attr("x", boxW / 2).attr("y", boxH + 36)
            .attr("text-anchor", "middle")
            .style("font-family", serif)
            .style("font-size", "13px")
            .attr("fill", "#111")
            .text("Chromosome");
    }
}

for (let i = 0; i < panelNames.length; i++) {
    drawPanel(i);
}
</script>
</body>
</html>
